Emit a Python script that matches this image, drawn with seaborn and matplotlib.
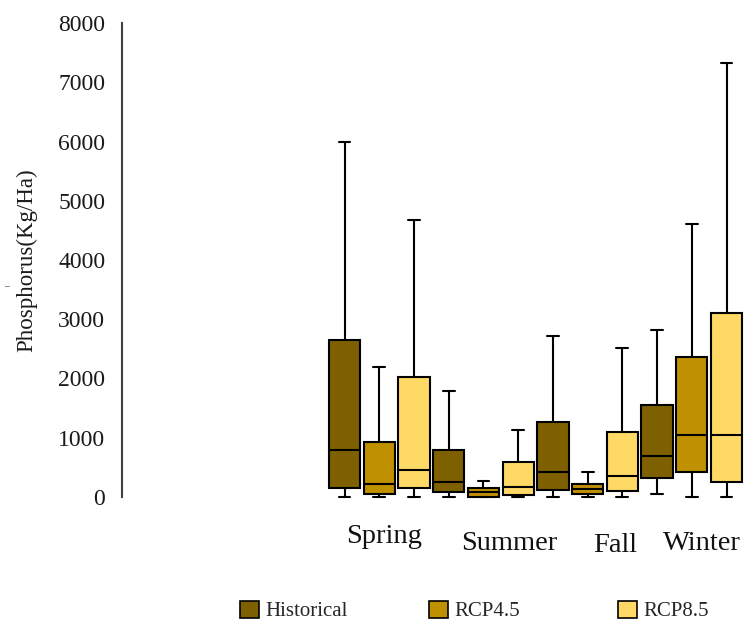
import numpy as np
import pandas as pd
import seaborn as sns
import matplotlib.pyplot as plt
import matplotlib.transforms as mtransforms
from matplotlib.patches import Patch

# ---------------- data ----------------
seasons = ["Spring", "Summer", "Fall", "Winter"]
scenarios = ["Historical", "RCP4.5", "RCP8.5"]
# one entry per box, season-major then scenario
box_min = [0, 0, 0, 0, 0, 0, 0, 0, 0, 40, 0, 0]
box_q1 = [142, 40, 142, 74, 0, 29, 113, 40, 101, 311, 422, 243]
box_med = [789, 212, 445, 243, 74, 169, 422, 130, 350, 688, 1043, 1043]
box_q3 = [2648, 925, 2028, 789, 142, 581, 1267, 209, 1098, 1550, 2366, 3099]
box_max = [6000, 2197, 4676, 1786, 270, 1127, 2710, 412, 2508, 2817, 4603, 7323]
yticks = [0, 1000, 2000, 3000, 4000, 5000, 6000, 7000, 8000]

colors = {"Historical": "#7F6000", "RCP4.5": "#BF9000", "RCP8.5": "#FFD966"}

# ------------- table -------------
rows = []
for i in range(len(box_med)):
    season = seasons[i // 3]
    scen = scenarios[i % 3]
    for v in (box_min[i], box_q1[i], box_med[i], box_q3[i], box_max[i]):
        rows.append({"slot": i, "season": season, "scenario": scen, "value": v})
df = pd.DataFrame(rows)

# ------------- layout -------------
sns.set_style("white")
plt.rcParams["font.family"] = ["Liberation Serif", "DejaVu Serif"]

W, H = 746, 625
fig = plt.figure(figsize=(W / 100, H / 100), dpi=100)
ax_left_px, ax_right_px = 122, 746
ax_top_px, ax_bot_px = 23.3, 496.7
ax = fig.add_axes([ax_left_px / W, 1 - ax_bot_px / H,
                   (ax_right_px - ax_left_px) / W, (ax_bot_px - ax_top_px) / H])

sns.boxplot(data=df, x="slot", y="value", hue="scenario", palette=colors,
            hue_order=scenarios, native_scale=True, dodge=False, width=0.9,
            whis=(0, 100), linewidth=1.5, linecolor="black", showfliers=False,
            saturation=1, legend=False, capwidths=0.34, ax=ax)

for art in list(ax.patches) + list(ax.lines):
    art.set_clip_on(False)

spacing = 34.73
first_center = 344.5
ax.set_xlim(-(first_center - ax_left_px) / spacing,
            11 + (ax_right_px - (first_center + 11 * spacing)) / spacing)
ax.set_ylim(0, 8000)
ax.set_yticks(yticks)
ax.set_yticklabels([str(t) for t in yticks])
ax.set_xticks([])
ax.set_xlabel("")
ax.tick_params(axis="y", length=0, pad=12, labelsize=17, labelcolor="#1a1a1a")

for s in ("top", "right", "bottom"):
    ax.spines[s].set_visible(False)
ax.spines["left"].set_color("#404040")
ax.spines["left"].set_linewidth(1.5)

ax.set_ylabel("Phosphorus(Kg/Ha)", fontsize=16.5, color="#1a1a1a")
ax.yaxis.set_label_coords(-0.136, 0.5)
# small stray dash left of the axis title, as in the reference
fig.text(7 / W, 1 - 287 / H, "\u2013", fontsize=7, ha="center", va="center",
         color="#333333")

# season labels (placed as in the reference)
label_pos = [1.14, 4.74, 7.79, 10.3]
label_y = [-0.0978, -0.1126, -0.1168, -0.1126]
trans = mtransforms.blended_transform_factory(ax.transData, ax.transAxes)
for name, px, py in zip(seasons, label_pos, label_y):
    ax.text(px, py, name, transform=trans, ha="center", va="baseline",
            fontsize=20.5, color="#111111")

# legend, three entries at their own spots
leg_x = [240, 429, 618]
for scen, lx in zip(scenarios, leg_x):
    h = Patch(facecolor=colors[scen], edgecolor="black", linewidth=1.2)
    fig.legend([h], [scen], loc="center left",
               bbox_to_anchor=(lx / W, 1 - 611 / H), frameon=False,
               fontsize=15, handlelength=0.9, handleheight=0.9,
               handletextpad=0.3, borderpad=0, borderaxespad=0)

fig.savefig("out.png", dpi=100)
